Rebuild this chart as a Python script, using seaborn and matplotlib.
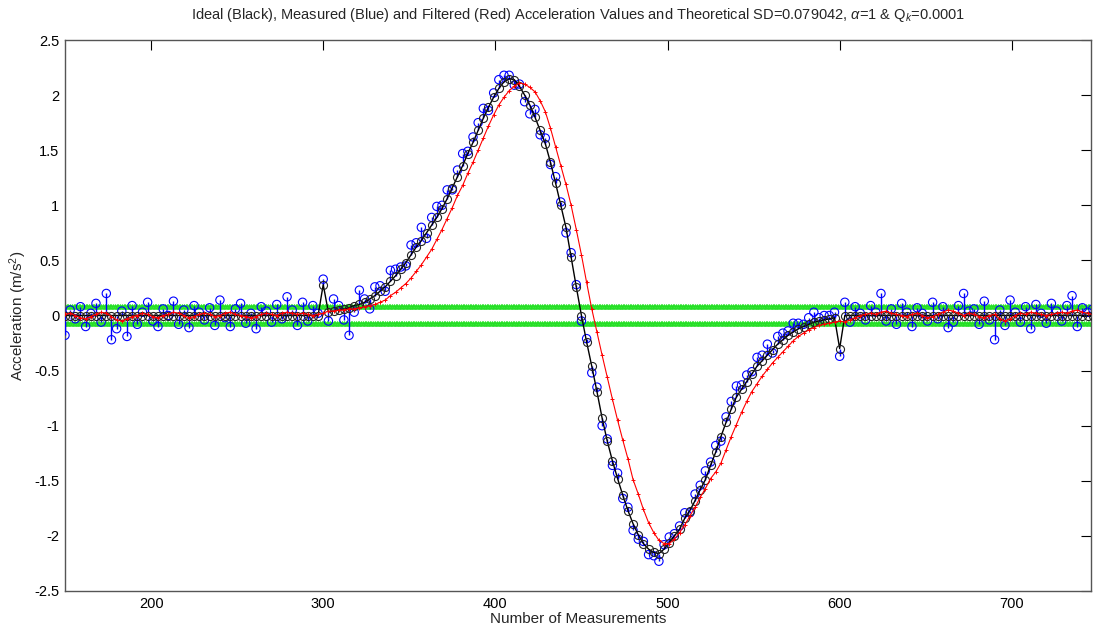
import numpy as np
import pandas as pd
import matplotlib
matplotlib.use("Agg")
import matplotlib.pyplot as plt
import seaborn as sns
from matplotlib.ticker import FuncFormatter

sample_no = np.arange(150, 750, 3)

ideal = [
    0.0, 0.0, 0.0, 0.0, 0.0, 0.0, 0.0, 0.0, 0.0, 0.0,
    0.0, 0.0, 0.0, 0.0, 0.0, 0.0, 0.0, 0.0, 0.0, 0.0,
    0.0, 0.0, 0.0, 0.0, 0.0, 0.0, 0.0, 0.0, 0.0, 0.0,
    0.0, 0.0, 0.0, 0.0, 0.0, 0.0, 0.0, 0.0, 0.0, 0.0,
    0.0, 0.0, 0.0, 0.0, 0.0, 0.0, 0.0, 0.0, 0.0, 0.0,
    0.28, 0.03, 0.04, 0.05, 0.06, 0.07, 0.09, 0.10, 0.12, 0.15,
    0.18, 0.22, 0.26, 0.31, 0.36, 0.42, 0.48, 0.55, 0.62, 0.68,
    0.75, 0.82, 0.89, 0.97, 1.06, 1.16, 1.26, 1.36, 1.47, 1.57,
    1.68, 1.79, 1.89, 1.98, 2.06, 2.12, 2.15, 2.14, 2.08, 2.00,
    1.91, 1.80, 1.68, 1.56, 1.39, 1.20, 1.00, 0.80, 0.53, 0.26,
    0.00, -0.24, -0.46, -0.69, -0.93, -1.14, -1.32, -1.48, -1.63, -1.77,
    -1.89, -1.99, -2.07, -2.12, -2.15, -2.16, -2.12, -2.06, -2.00, -1.94,
    -1.84, -1.77, -1.68, -1.58, -1.49, -1.36, -1.24, -1.10, -0.97, -0.85,
    -0.74, -0.67, -0.60, -0.53, -0.46, -0.41, -0.36, -0.31, -0.26, -0.22,
    -0.18, -0.15, -0.12, -0.10, -0.08, -0.06, -0.05, -0.04, -0.03, -0.02,
    -0.30, 0.0, 0.0, 0.0, 0.0, 0.0, 0.0, 0.0, 0.0, 0.0,
    0.0, 0.0, 0.0, 0.0, 0.0, 0.0, 0.0, 0.0, 0.0, 0.0,
    0.0, 0.0, 0.0, 0.0, 0.0, 0.0, 0.0, 0.0, 0.0, 0.0,
    0.0, 0.0, 0.0, 0.0, 0.0, 0.0, 0.0, 0.0, 0.0, 0.0,
    0.0, 0.0, 0.0, 0.0, 0.0, 0.0, 0.0, 0.0, 0.0, 0.0,
]

measured = [
    -0.18, 0.05, -0.03, 0.08, -0.10, 0.02, 0.11, -0.06, 0.20, -0.22,
    -0.12, 0.04, -0.19, 0.09, -0.08, 0.03, 0.12, -0.05, -0.10, 0.06,
    0.00, 0.13, -0.08, 0.05, -0.11, 0.09, 0.03, -0.04, 0.07, -0.09,
    0.14, -0.02, -0.10, 0.06, 0.11, -0.07, 0.02, -0.12, 0.08, 0.04,
    -0.06, 0.10, -0.03, 0.17, 0.05, -0.09, 0.12, -0.05, 0.09, 0.02,
    0.33, -0.05, 0.15, 0.09, -0.04, -0.18, 0.03, 0.23, 0.15, 0.06,
    0.26, 0.27, 0.22, 0.41, 0.42, 0.44, 0.45, 0.64, 0.66, 0.80,
    0.70, 0.89, 0.99, 1.00, 1.14, 1.14, 1.32, 1.47, 1.49, 1.62,
    1.75, 1.88, 1.86, 2.02, 2.14, 2.18, 2.18, 2.09, 2.10, 1.94,
    1.83, 1.87, 1.64, 1.61, 1.37, 1.26, 1.03, 0.75, 0.57, 0.28,
    -0.05, -0.21, -0.52, -0.65, -1.00, -1.12, -1.36, -1.43, -1.66, -1.74,
    -1.95, -2.03, -2.05, -2.17, -2.18, -2.23, -2.08, -2.01, -1.98, -1.91,
    -1.79, -1.79, -1.62, -1.54, -1.41, -1.33, -1.18, -1.14, -0.92, -0.78,
    -0.64, -0.63, -0.54, -0.51, -0.38, -0.36, -0.26, -0.34, -0.19, -0.16,
    -0.14, -0.07, -0.07, -0.08, -0.02, 0.03, -0.02, 0.00, 0.00, 0.03,
    -0.37, 0.12, -0.06, 0.08, 0.02, -0.04, 0.09, 0.03, 0.20, -0.05,
    0.06, -0.08, 0.11, 0.03, -0.10, 0.07, 0.02, -0.05, 0.12, -0.03,
    0.08, -0.11, -0.06, 0.09, 0.20, 0.04, 0.06, -0.08, 0.13, -0.04,
    -0.22, 0.05, -0.09, 0.14, 0.03, -0.06, 0.08, -0.12, 0.10, 0.02,
    -0.07, 0.11, 0.04, -0.05, 0.09, 0.18, -0.10, 0.07, 0.03, 0.06,
]

filtered = [
    0.01, 0.02, 0.00, -0.02, -0.03, -0.01, 0.01, 0.03, 0.02, -0.01,
    -0.04, -0.05, -0.03, -0.01, 0.00, 0.02, 0.01, -0.01, -0.02, 0.00,
    0.01, 0.03, 0.02, 0.00, -0.02, -0.01, 0.01, 0.02, 0.01, -0.01,
    0.00, 0.02, 0.03, 0.01, 0.00, -0.01, -0.02, -0.01, 0.01, 0.02,
    0.01, 0.00, 0.02, 0.03, 0.02, 0.01, 0.02, 0.01, 0.00, 0.01,
    0.02, 0.04, 0.04, 0.05, 0.05, 0.06, 0.06, 0.07, 0.08, 0.09,
    0.10, 0.12, 0.14, 0.18, 0.21, 0.25, 0.29, 0.34, 0.40, 0.46,
    0.53, 0.60, 0.69, 0.78, 0.88, 0.98, 1.09, 1.18, 1.29, 1.39,
    1.50, 1.61, 1.72, 1.82, 1.91, 1.98, 2.04, 2.08, 2.11, 2.10,
    2.07, 2.03, 1.95, 1.85, 1.70, 1.53, 1.36, 1.19, 1.00, 0.78,
    0.55, 0.30, 0.06, -0.15, -0.36, -0.56, -0.76, -0.95, -1.13, -1.30,
    -1.49, -1.62, -1.76, -1.88, -1.97, -2.04, -2.07, -2.07, -2.03, -1.97,
    -1.90, -1.82, -1.74, -1.65, -1.57, -1.48, -1.42, -1.34, -1.22, -1.10,
    -0.99, -0.88, -0.78, -0.69, -0.62, -0.55, -0.49, -0.43, -0.38, -0.33,
    -0.28, -0.23, -0.19, -0.16, -0.13, -0.11, -0.09, -0.08, -0.07, -0.06,
    -0.05, -0.06, -0.04, -0.02, 0.00, 0.01, 0.02, 0.01, 0.03, 0.04,
    0.02, 0.01, 0.00, -0.01, 0.01, 0.02, 0.00, -0.02, -0.01, 0.01,
    0.03, 0.05, 0.04, 0.02, 0.00, 0.02, 0.01, -0.01, -0.02, 0.00,
    0.01, -0.03, -0.05, -0.03, 0.00, 0.02, 0.01, 0.03, 0.02, 0.01,
    0.00, 0.01, 0.02, 0.03, 0.02, 0.04, 0.05, 0.03, 0.02, 0.01,
]

theoretical_sd = 0.079042
threshold_samples = np.arange(150, 748)
x_tick_values = [200, 300, 400, 500, 600, 700]
y_tick_values = [-2.5, -2, -1.5, -1, -0.5, 0, 0.5, 1, 1.5, 2, 2.5]

df = pd.DataFrame({"n": sample_no, "ideal": ideal, "measured": measured, "filtered": filtered})
thr = pd.DataFrame({"n": threshold_samples,
                    "hi": np.full(len(threshold_samples), theoretical_sd),
                    "lo": np.full(len(threshold_samples), -theoretical_sd)})

# ---------------- style ----------------
sns.set_style("white")
plt.rcParams["font.family"] = ["Liberation Sans", "DejaVu Sans"]
plt.rcParams["mathtext.fontset"] = "custom"
plt.rcParams["mathtext.rm"] = "Liberation Sans"
plt.rcParams["mathtext.it"] = "Liberation Sans:italic"

fig = plt.figure(figsize=(10.96, 6.30), dpi=100)
ax = fig.add_axes([65 / 1096, 39 / 630, 1026 / 1096, 551 / 630])

# green theoretical SD band lines
for col in ["hi", "lo"]:
    sns.lineplot(data=thr, x="n", y=col, ax=ax, color="#88ff88", lw=3.0,
                 marker="*", markersize=4.2, markeredgecolor="#22dd22",
                 markerfacecolor="#44ee44", markeredgewidth=0.5,
                 estimator=None, sort=False, zorder=2)

# measured: stems from ideal to measurement, open blue circles
ax.vlines(df["n"], df["ideal"], df["measured"], color="#0000ff", lw=1.0, zorder=3)
sns.scatterplot(data=df, x="n", y="measured", ax=ax, marker="o", s=36,
                facecolors="none", edgecolor="#0000ff", linewidth=0.8, zorder=4)

# ideal: black line with open circles
sns.lineplot(data=df, x="n", y="ideal", ax=ax, color="black", lw=1.0,
             marker="o", markersize=5.8, markerfacecolor="none",
             markeredgecolor="#222222", markeredgewidth=0.8,
             estimator=None, sort=False, zorder=5)

# filtered: red line with + markers
sns.lineplot(data=df, x="n", y="filtered", ax=ax, color="#ff0000", lw=0.8,
             marker="+", markersize=3.5, markeredgewidth=0.7,
             markeredgecolor="#ff0000",
             estimator=None, sort=False, zorder=6)

ax.set_xlim(150, 746)
ax.set_ylim(-2.5, 2.5)
ax.set_xticks(x_tick_values)
ax.set_yticks(y_tick_values)
ax.yaxis.set_major_formatter(FuncFormatter(lambda v, p: f"{v:g}"))
ax.tick_params(direction="in", length=7, width=0.8, top=True, right=True,
               labelsize=10.5, colors="black", pad=4)
for s in ax.spines.values():
    s.set_visible(True)
    s.set_color("#555555")
    s.set_linewidth(1.0)

ax.set_xlabel("Number of Measurements", fontsize=11, labelpad=1)
ax.set_ylabel("Acceleration (m/s$^2$)", fontsize=11, labelpad=4)
ax.set_title(r"Ideal (Black), Measured (Blue) and Filtered (Red) Acceleration Values and "
             r"Theoretical SD=0.079042, $\alpha$=1 & Q$_k$=0.0001", fontsize=10.5, pad=15)

fig.savefig("out.png", dpi=100)
